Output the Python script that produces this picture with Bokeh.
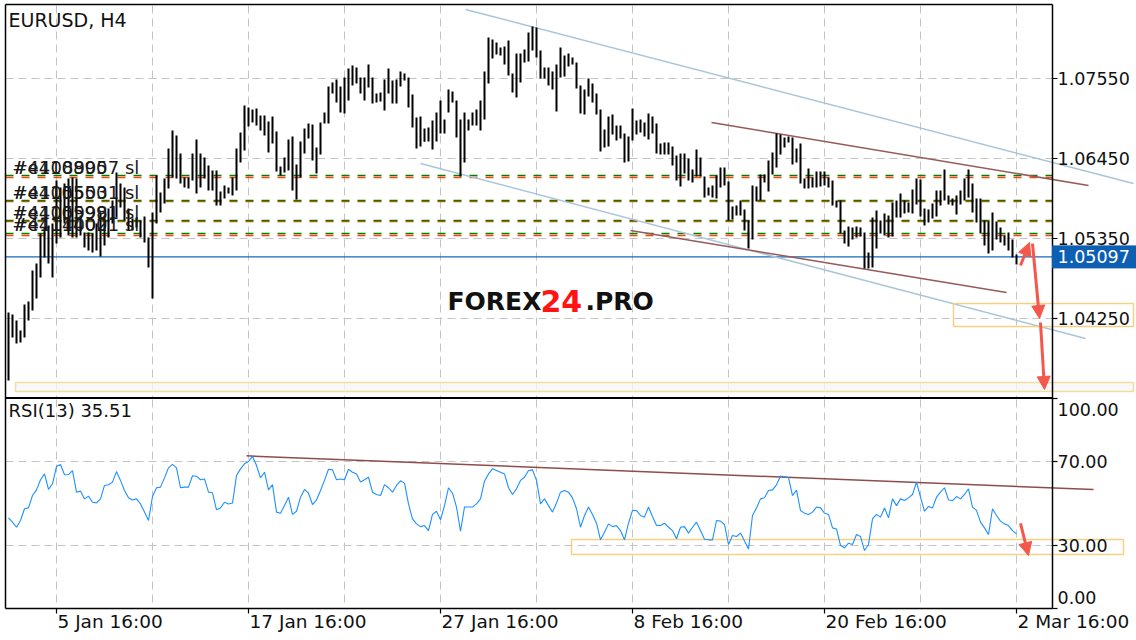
from bokeh.plotting import figure
from bokeh.models import Range1d, Arrow, NormalHead
from bokeh.core.properties import value
from bokeh.embed import file_html
from bokeh.resources import INLINE

# ---------------- data ----------------
symbol_title = "EURUSD, H4"
rsi_title = "RSI(13) 35.51"
bar_index = list(range(-12, 241))          # H4 bars, 0 = 5 Jan 16:00

highs = [
    1.04333, 1.04305, 1.04223, 1.04085, 1.04443, 1.04484, 1.04910, 1.05006, 1.05419, 1.05501,
    1.05529, 1.05556, 1.06148, 1.06051, 1.06106, 1.06175, 1.06189, 1.06175, 1.05666, 1.05433,
    1.05433, 1.05419, 1.05556, 1.05694, 1.05639, 1.05763, 1.05873, 1.06258, 1.06106, 1.06051,
    1.05763, 1.05625, 1.05639, 1.05598, 1.05653, 1.05364, 1.05708, 1.06216, 1.05983, 1.06175,
    1.06588, 1.06835, 1.06766, 1.06519, 1.06189, 1.06189, 1.06519, 1.06711, 1.06519, 1.06464,
    1.06354, 1.06285, 1.06285, 1.05996, 1.06079, 1.06051, 1.06189, 1.06588, 1.06808, 1.07179,
    1.07151, 1.07124, 1.07138, 1.07041, 1.07041, 1.06959, 1.07028, 1.06821, 1.06340, 1.06464,
    1.06711, 1.06753, 1.06368, 1.06684, 1.06863, 1.06931, 1.06918, 1.06601, 1.06945, 1.07083,
    1.07440, 1.07495, 1.07536, 1.07440, 1.07564, 1.07688, 1.07729, 1.07701, 1.07564, 1.07564,
    1.07743, 1.07564, 1.07344, 1.07358, 1.07536, 1.07688, 1.07523, 1.07536, 1.07646, 1.07619,
    1.07564, 1.07330, 1.07014, 1.07028, 1.06863, 1.06876, 1.06973, 1.07083, 1.07248, 1.06986,
    1.07399, 1.07371, 1.07248, 1.06986, 1.07083, 1.06986, 1.07083, 1.07124, 1.07248, 1.07646,
    1.08114, 1.08086, 1.08045, 1.07976, 1.07990, 1.08073, 1.07619, 1.07894, 1.07894, 1.07949,
    1.08183, 1.08265, 1.08251, 1.07935, 1.07701, 1.07701, 1.07646, 1.07743, 1.07976, 1.07866,
    1.07894, 1.07839, 1.07770, 1.07454, 1.07399, 1.07550, 1.07481, 1.07344, 1.07124, 1.06849,
    1.07028, 1.07055, 1.06904, 1.06904, 1.06794, 1.06753, 1.07138, 1.06973, 1.06986, 1.06945,
    1.07069, 1.07028, 1.06931, 1.06656, 1.06670, 1.06670, 1.06615, 1.06491, 1.06519, 1.06519,
    1.06450, 1.06299, 1.06574, 1.06464, 1.06203, 1.06051, 1.06079, 1.06216, 1.06326, 1.06326,
    1.06134, 1.05790, 1.05804, 1.05873, 1.05749, 1.05598, 1.06079, 1.06065, 1.06230, 1.06230,
    1.06423, 1.06533, 1.06794, 1.06780, 1.06739, 1.06753, 1.06739, 1.06588, 1.06656, 1.06175,
    1.06313, 1.06189, 1.06271, 1.06271, 1.06271, 1.06189, 1.06148, 1.05873, 1.05873, 1.05460,
    1.05515, 1.05501, 1.05515, 1.05501, 1.05433, 1.05158, 1.05639, 1.05735, 1.05598, 1.05694,
    1.05666, 1.05845, 1.05873, 1.05969, 1.05873, 1.05845, 1.06024, 1.06175, 1.06161, 1.05763,
    1.05749, 1.05831, 1.06010, 1.06010, 1.06299, 1.05941, 1.05900, 1.05941, 1.06010, 1.06175,
    1.06299, 1.06106, 1.05900, 1.05900, 1.05598, 1.05584, 1.05708, 1.05584, 1.05501, 1.05391,
    1.05433, 1.05336, 1.05130,
]
lows = [
    1.03398, 1.03989, 1.03906, 1.03920, 1.03989, 1.04223, 1.04360, 1.04525, 1.04814, 1.05089,
    1.05006, 1.04814, 1.05281, 1.05364, 1.05556, 1.05391, 1.05364, 1.05364, 1.05391, 1.05226,
    1.05185, 1.05158, 1.05185, 1.05103, 1.05254, 1.05364, 1.05556, 1.05639, 1.05776, 1.05598,
    1.05460, 1.05460, 1.05501, 1.05364, 1.05295, 1.04951, 1.04525, 1.05556, 1.05708, 1.05831,
    1.06038, 1.06189, 1.06175, 1.06106, 1.06051, 1.06038, 1.06148, 1.05969, 1.06051, 1.06175,
    1.06010, 1.06010, 1.05804, 1.05804, 1.05900, 1.05969, 1.05941, 1.06010, 1.06395, 1.06560,
    1.06890, 1.06945, 1.06904, 1.06835, 1.06766, 1.06533, 1.06656, 1.06271, 1.06216, 1.06258,
    1.06285, 1.06010, 1.05886, 1.06189, 1.06519, 1.06725, 1.06423, 1.06244, 1.06505, 1.06931,
    1.06931, 1.07344, 1.07220, 1.07083, 1.07069, 1.07248, 1.07454, 1.07481, 1.07344, 1.07248,
    1.07426, 1.07206, 1.07220, 1.07234, 1.07110, 1.07344, 1.07206, 1.07206, 1.07440, 1.07523,
    1.07151, 1.06876, 1.06588, 1.06615, 1.06680, 1.06684, 1.06574, 1.06684, 1.06794, 1.06794,
    1.07083, 1.07220, 1.06739, 1.06203, 1.06395, 1.06835, 1.06904, 1.06904, 1.06835, 1.06986,
    1.07481, 1.07825, 1.07880, 1.07866, 1.07743, 1.07591, 1.07358, 1.07289, 1.07495, 1.07770,
    1.07784, 1.07935, 1.07839, 1.07550, 1.07550, 1.07454, 1.07399, 1.07096, 1.07564, 1.07578,
    1.07715, 1.07743, 1.07413, 1.07069, 1.07055, 1.07303, 1.07220, 1.07055, 1.06546, 1.06601,
    1.06615, 1.06780, 1.06698, 1.06725, 1.06395, 1.06409, 1.06698, 1.06780, 1.06808, 1.06753,
    1.06711, 1.06794, 1.06519, 1.06505, 1.06505, 1.06505, 1.06354, 1.06148, 1.06065, 1.06244,
    1.06148, 1.06120, 1.06203, 1.06203, 1.05914, 1.05941, 1.05914, 1.05900, 1.06051, 1.06079,
    1.05598, 1.05611, 1.05666, 1.05666, 1.05460, 1.05213, 1.05336, 1.05859, 1.05873, 1.06120,
    1.05996, 1.06230, 1.06326, 1.06505, 1.06601, 1.06670, 1.06368, 1.06395, 1.06106, 1.06038,
    1.06038, 1.06051, 1.06051, 1.06065, 1.06079, 1.06051, 1.05804, 1.05776, 1.05419, 1.05281,
    1.05240, 1.05336, 1.05364, 1.05378, 1.04938, 1.04938, 1.04951, 1.05213, 1.05419, 1.05391,
    1.05364, 1.05378, 1.05639, 1.05639, 1.05694, 1.05708, 1.05694, 1.05818, 1.05653, 1.05529,
    1.05570, 1.05625, 1.05653, 1.05804, 1.05873, 1.05818, 1.05804, 1.05680, 1.05818, 1.05873,
    1.05914, 1.05708, 1.05570, 1.05419, 1.05254, 1.05144, 1.05185, 1.05336, 1.05295, 1.05254,
    1.05185, 1.05089, 1.04993,
]
rsi_values = [
    43.2, 41.1, 38.7, 41.9, 47.5, 47.9, 53.8, 56.5, 61.3, 64.1,
    56.7, 59.4, 67.6, 68.6, 63.7, 63.8, 65.7, 55.4, 55.9, 52.2,
    53.5, 50.6, 50.3, 52.2, 58.6, 58.9, 60.2, 65.2, 61.0, 56.2,
    52.7, 51.7, 52.2, 49.8, 45.9, 41.9, 53.3, 57.5, 57.8, 62.2,
    67.0, 68.6, 67.0, 57.5, 57.8, 57.8, 63.2, 63.0, 61.3, 61.7,
    55.4, 55.1, 47.0, 47.9, 50.6, 49.8, 50.2, 63.3, 66.5, 68.9,
    70.0, 72.4, 68.1, 62.2, 64.9, 56.5, 59.0, 45.9, 45.4, 49.0,
    53.0, 44.8, 46.3, 53.0, 56.7, 54.9, 49.5, 51.7, 56.2, 61.0,
    66.3, 66.0, 61.3, 61.7, 61.3, 66.3, 64.9, 64.1, 60.2, 61.3,
    62.5, 55.4, 54.3, 53.8, 59.0, 57.5, 55.4, 58.6, 60.8, 59.7,
    49.8, 42.7, 40.3, 39.0, 39.5, 37.1, 44.8, 46.3, 42.2, 49.0,
    57.5, 54.9, 48.3, 36.8, 48.3, 48.3, 48.3, 49.8, 52.2, 60.6,
    64.1, 66.5, 65.7, 64.9, 64.1, 57.5, 54.3, 57.0, 61.0, 62.5,
    65.7, 66.0, 61.0, 49.8, 52.2, 49.0, 45.9, 50.2, 55.4, 56.2,
    55.4, 52.7, 47.5, 38.7, 44.3, 48.3, 44.8, 40.6, 32.7, 36.3,
    40.3, 39.0, 39.5, 37.1, 32.7, 40.6, 46.7, 46.7, 44.3, 43.5,
    48.3, 43.8, 39.5, 39.5, 40.6, 38.7, 37.1, 33.2, 38.7, 39.0,
    35.9, 38.7, 41.1, 37.1, 33.0, 32.7, 32.7, 41.9, 41.6, 40.0,
    30.5, 34.8, 34.3, 35.9, 32.1, 28.3, 44.3, 47.9, 52.2, 52.7,
    56.2, 56.5, 58.9, 63.1, 62.7, 62.4, 53.8, 56.4, 46.7, 45.4,
    44.8, 45.9, 48.3, 47.9, 45.4, 44.8, 38.4, 37.9, 30.0, 28.9,
    31.1, 30.5, 35.2, 34.3, 27.6, 30.5, 42.7, 44.8, 43.5, 47.9,
    43.2, 52.2, 49.0, 52.2, 51.4, 52.7, 54.3, 60.2, 53.0, 46.3,
    48.6, 47.9, 53.0, 55.4, 57.5, 51.7, 51.4, 53.3, 52.2, 54.3,
    57.0, 48.3, 46.7, 41.1, 38.4, 35.2, 47.5, 44.3, 41.6, 40.3,
    39.5, 37.1, 35.51,
]
last_price = 1.05097
last_price_label = "1.05097"

price_ticks = [1.07550, 1.06450, 1.05350, 1.04250]
price_tick_labels = ["1.07550", "1.06450", "1.05350", "1.04250"]
rsi_ticks = [100, 70, 30, 0]
rsi_tick_labels = ["100.00", "70.00", "30.00", "0.00"]
rsi_grid = [70, 30]
date_tick_index = [0, 48, 96, 144, 192, 240]
date_tick_labels = ["5 Jan 16:00", "17 Jan 16:00", "27 Jan 16:00",
                    "8 Feb 16:00", "20 Feb 16:00", "2 Mar 16:00"]
date_grid_index = [0, 24, 48, 72, 96, 120, 144, 168, 192, 216, 240]

order_levels_green = [1.06216, 1.05872, 1.05597, 1.05419]
order_levels_red = [1.06189, 1.05859, 1.05584, 1.05391]
order_labels_a = ["#41089057 sl", "#41055031 sl", "#41059981 sl", "#41140021 sl"]
order_labels_b = ["#e410890", "#e410550", "#e410599", "#e411400"]

# trend lines: (bar index pair, value pair)
channel_upper_x, channel_upper_y = [102.25, 269.25], [1.08499, 1.06106]
channel_lower_x, channel_lower_y = [91.0, 257.25], [1.06381, 1.03975]
wedge_upper_x, wedge_upper_y = [163.75, 258.0], [1.06945, 1.06079]
wedge_lower_x, wedge_lower_y = [143.5, 237.5], [1.05460, 1.04608]
rsi_trend_x, rsi_trend_y = [47.5, 259.25], [72.7, 56.67]

# target zones: left, right, top, bottom
zone_near = [224.25, 269.25, 1.04456, 1.04140]
zone_far = [-10.25, 269.25, 1.03370, 1.03246]
zone_rsi = [128.75, 266.75, 32.86, 25.71]

# forecast arrows: x_start, y_start, x_end, y_end
price_arrows = [
    [241.0, 1.04979, 243.25, 1.05295],
    [244.0, 1.05281, 245.75, 1.04250],
    [246.0, 1.04195, 247.0, 1.03274],
]
rsi_arrow = [241.0, 40.5, 243.0, 25.2]

# ---------------- layout helpers (screen pixel -> data) ----------------
W, H = 1136, 640
IDX0_PX, BAR_PX = 56.0, 4.0
P_TOP, P_PER_PX = 1.086225, 0.0001375


def X(px):
    return (px - IDX0_PX) / BAR_PX


def Y(py):
    return P_TOP - py * P_PER_PX


def R(py):
    return 70 + (461 - py) / 2.1


FONT = value("DejaVu Sans")
GRID = "#c4c4c4"

p = figure(width=W, height=H, x_range=Range1d(X(0), X(W)), y_range=Range1d(Y(H), Y(0)),
           toolbar_location=None, output_backend="svg", min_border=0,
           x_axis_location=None, y_axis_location=None, outline_line_color=None,
           background_fill_color="white", border_fill_color="white")
p.extra_y_ranges = {"rsi": Range1d(R(H), R(0))}
p.grid.visible = False

LEFT, RIGHT = X(5), X(1052)

# vertical grid
n = len(date_grid_index)
p.segment(x0=date_grid_index, x1=date_grid_index, y0=[Y(5)] * n, y1=[Y(397)] * n,
          line_color=GRID, line_width=1, line_dash="8 5")
p.segment(x0=date_grid_index, x1=date_grid_index, y0=[R(399)] * n, y1=[R(607)] * n,
          line_color=GRID, line_width=1, line_dash="8 5", y_range_name="rsi")
# horizontal grid
m = len(price_ticks)
p.segment(x0=[LEFT] * m, x1=[RIGHT] * m, y0=price_ticks, y1=price_ticks,
          line_color=GRID, line_width=1, line_dash="8 5")
p.segment(x0=[LEFT] * 2, x1=[RIGHT] * 2, y0=rsi_grid, y1=rsi_grid,
          line_color=GRID, line_width=1, line_dash="8 5", y_range_name="rsi")

# order levels
k = len(order_levels_green)
p.segment(x0=[LEFT] * k, x1=[RIGHT] * k, y0=order_levels_red, y1=order_levels_red,
          line_color="#ff4500", line_width=1.3, line_dash="8 8")
p.segment(x0=[LEFT] * k, x1=[RIGHT] * k, y0=order_levels_green, y1=order_levels_green,
          line_color="#008000", line_width=1.5, line_dash="8 8")

# current price line
p.line(x=[LEFT, RIGHT], y=[last_price, last_price], line_color="#1468bd", line_width=1.4)

# trend lines
p.line(x=channel_upper_x, y=channel_upper_y, line_color="#aac5d8", line_width=1.5)
p.line(x=channel_lower_x, y=channel_lower_y, line_color="#aac5d8", line_width=1.5)
p.line(x=wedge_upper_x, y=wedge_upper_y, line_color="#955a5a", line_width=1.5)
p.line(x=wedge_lower_x, y=wedge_lower_y, line_color="#955a5a", line_width=1.5)
p.line(x=rsi_trend_x, y=rsi_trend_y, line_color="#8e4c4c", line_width=1.5, y_range_name="rsi")

# target zones
p.quad(left=[zone_near[0]], right=[zone_near[1]], top=[zone_near[2]], bottom=[zone_near[3]],
       fill_alpha=0, line_color="#f3d383", line_width=1.5)
p.quad(left=[zone_far[0]], right=[zone_far[1]], top=[zone_far[2]], bottom=[zone_far[3]],
       fill_color="#f6f6f6", fill_alpha=0.8, line_color="#f1dca2", line_width=1.5)
p.quad(left=[zone_rsi[0]], right=[zone_rsi[1]], top=[zone_rsi[2]], bottom=[zone_rsi[3]],
       fill_alpha=0, line_color="#f3d383", line_width=1.5, y_range_name="rsi")

# price bars (high-low)
p.segment(x0=bar_index, x1=bar_index, y0=lows, y1=highs, line_color="black", line_width=2)

# RSI line
p.line(x=bar_index, y=rsi_values, line_color="#1e90ff", line_width=1.1, y_range_name="rsi")

# frame lines
p.line(x=[LEFT, LEFT], y=[Y(4), Y(608)], line_color="black", line_width=1.5)
p.line(x=[RIGHT, RIGHT], y=[Y(4), Y(608)], line_color="black", line_width=1.5)
p.line(x=[LEFT, RIGHT], y=[Y(4), Y(4)], line_color="black", line_width=1.5)
p.line(x=[LEFT, RIGHT], y=[Y(397.5), Y(397.5)], line_color="black", line_width=2)
p.line(x=[LEFT, RIGHT], y=[Y(608), Y(608)], line_color="black", line_width=1.5)

# right axis ticks + labels (price)
p.segment(x0=[RIGHT] * m, x1=[X(1057)] * m, y0=price_ticks, y1=price_ticks,
          line_color="black", line_width=1.2)
p.text(x=[X(1057)] * m, y=price_ticks, text=price_tick_labels, text_font=FONT,
       text_font_size=value("17.5px"), text_color="#111111",
       text_align="left", text_baseline="middle")
# RSI axis
rl = len(rsi_ticks)
p.segment(x0=[RIGHT] * rl, x1=[X(1057)] * rl, y0=rsi_ticks, y1=rsi_ticks,
          line_color="black", line_width=1.2, y_range_name="rsi")
rsi_label_y = [min(t, R(409)) if t > 50 else max(t, R(597)) for t in rsi_ticks]
p.text(x=[X(1057)] * rl, y=rsi_label_y, text=rsi_tick_labels, text_font=FONT,
       text_font_size=value("17.5px"), text_color="#111111",
       text_align="left", text_baseline="middle", y_range_name="rsi")

# last price tag
pad = 11 * P_PER_PX
p.quad(left=[RIGHT], right=[X(W)], top=[last_price + pad], bottom=[last_price - pad],
       fill_color="#0d5fb3", line_color="#0d5fb3")
p.text(x=[X(1057)], y=[last_price], text=[last_price_label], text_font=FONT,
       text_font_size=value("17.5px"), text_color="white",
       text_align="left", text_baseline="middle")

# date axis
d = len(date_tick_index)
p.segment(x0=date_tick_index, x1=date_tick_index, y0=[R(608)] * d, y1=[R(613)] * d,
          line_color="black", line_width=1.2, y_range_name="rsi")
p.text(x=[i + 0.25 for i in date_tick_index], y=[R(621)] * d, text=date_tick_labels,
       text_font=FONT, text_font_size=value("18.5px"), text_color="#111111",
       text_align="left", text_baseline="middle", y_range_name="rsi")

# titles
p.text(x=[X(8)], y=[Y(19)], text=[symbol_title], text_font=FONT,
       text_font_size=value("19px"), text_color="#111111",
       text_align="left", text_baseline="middle")
p.text(x=[X(8)], y=[R(410)], text=[rsi_title], text_font=FONT,
       text_font_size=value("18px"), text_color="#111111",
       text_align="left", text_baseline="middle", y_range_name="rsi")

# order labels (overlapping, as in terminal), drawn just above each level
lab_y = [g + 8.5 * P_PER_PX for g in order_levels_green]
p.text(x=[X(12)] * k, y=lab_y, text=order_labels_b, text_font=FONT,
       text_font_size=value("18px"), text_color="#1a1a1a",
       text_align="left", text_baseline="middle")
p.text(x=[X(12)] * k, y=lab_y, text=order_labels_a, text_font=FONT,
       text_font_size=value("18px"), text_color="#1a1a1a",
       text_align="left", text_baseline="middle")

# watermark
p.text(x=[X(447)], y=[Y(301)], text=["FOREX"], text_font=FONT, text_font_style="bold",
       text_font_size=value("25px"), text_color="#111111", text_align="left", text_baseline="middle")
p.text(x=[X(540)], y=[Y(300)], text=["24"], text_font=FONT, text_font_style="bold",
       text_font_size=value("30px"), text_color="#ff1414", text_align="left", text_baseline="middle")
p.text(x=[X(585)], y=[Y(301)], text=[".PRO"], text_font=FONT, text_font_style="bold",
       text_font_size=value("25px"), text_color="#111111", text_align="left", text_baseline="middle")

# forecast arrows
ARROW = "#f4574b"
for xs, ys, xe, ye in price_arrows:
    p.add_layout(Arrow(end=NormalHead(size=13, fill_color=ARROW, line_color=ARROW),
                       x_start=xs, y_start=ys, x_end=xe, y_end=ye,
                       line_color=ARROW, line_width=3))
p.add_layout(Arrow(end=NormalHead(size=13, fill_color=ARROW, line_color=ARROW),
                   x_start=rsi_arrow[0], y_start=rsi_arrow[1], x_end=rsi_arrow[2], y_end=rsi_arrow[3],
                   line_color=ARROW, line_width=3, y_range_name="rsi"))

open("out.html", "w").write(file_html(p, INLINE))
